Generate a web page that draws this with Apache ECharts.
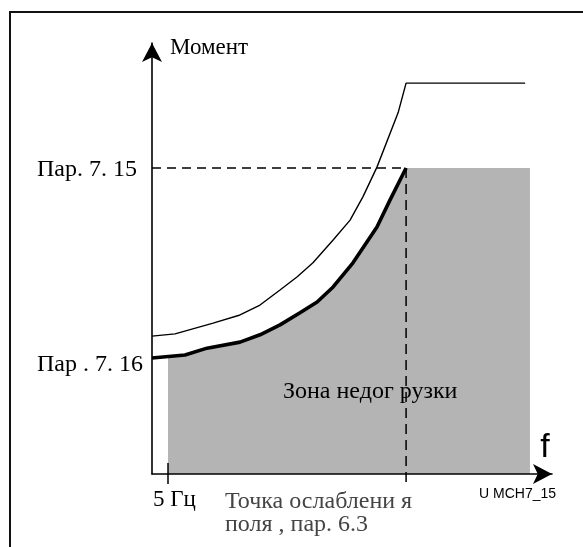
<!DOCTYPE html>
<html><head><meta charset="utf-8">
<script src="https://cdn.jsdelivr.net/npm/echarts@6/dist/echarts.min.js"></script>
<style>html,body{margin:0;padding:0;background:#fff}#c{width:583px;height:547px}</style>
</head><body><div id="c"></div>
<script>
// ---- data (schematic units: x = frequency units, y = torque units) ----
const xAxisMax = 125;
const yAxisMax = 100;
const fieldWeakX = 79.4;      // field weakening point
const par715 = 71.0;          // Par. 7.15 torque level
const minFreqX = 5;           // 5 Hz

// thick curve: underload limit
const limitX = [0, 10.3, 17.2, 27.5, 33.75, 40, 46.25, 51.6, 56.6, 62.8, 70.3, 74.4, 79.4];
const limitY = [26.9, 27.6, 29.2, 30.6, 32.3, 34.6, 37.4, 39.9, 43.4, 49.0, 57.3, 63.6, 71.0];
// thin curve: nominal torque
const nominalX = [0, 7.2, 19.1, 27.5, 33.75, 40, 45.3, 50.3, 56.6, 61.9, 65.9, 70.3, 76.9, 79.4, 116.6];
const nominalY = [32.0, 32.5, 35.0, 36.9, 39.2, 42.7, 45.7, 49.0, 54.3, 58.9, 64.3, 71.2, 83.8, 90.7, 90.7];
// grey underload zone outline
const zoneX = [5, 10.3, 17.2, 27.5, 33.75, 40, 46.25, 51.6, 56.6, 62.8, 70.3, 74.4, 79.4, 118.1];
const zoneY = [27.3, 27.6, 29.2, 30.6, 32.3, 34.6, 37.4, 39.9, 43.4, 49.0, 57.3, 63.6, 71.0, 71.0];
// small marks crossing the x axis
const tickSpanY = [2.55, -2.3];

// tick labels
const yTickValues = [71.0, 26.9];
const yTickLabels = ['Пар. 7. 15', 'Пар . 7. 16'];
const xTickValues = [5];
const xTickLabels = ['5 Гц'];
const yAxisName = 'Момент';
const xAxisName = 'f';
const zoneLabel = 'Зона недог рузки';
const fwLabel = ['Точка ослаблени я', 'поля , пар. 6.3'];
const figId = 'U MCH7_15';

const zip = (xs, ys) => xs.map((x, i) => [x, ys[i]]);

const chart = echarts.init(document.getElementById('c'), null, {renderer: 'canvas'});
const serif = 'Liberation Serif';
const sans = 'Liberation Sans';

const axisCommon = {
  type: 'value', min: 0,
  axisLine: {show: true, symbol: ['none', 'arrow'], symbolSize: [15, 19], lineStyle: {color: '#000', width: 1.6}},
  axisTick: {show: false}, axisLabel: {show: false}, splitLine: {show: false}, z: 5
};

chart.setOption({
  animation: false,
  backgroundColor: '#fff',
  grid: {left: 152, top: 43, width: 400, height: 431},
  xAxis: Object.assign({}, axisCommon, {max: xAxisMax}),
  yAxis: Object.assign({}, axisCommon, {max: yAxisMax}),
  series: [
    {type: 'line', data: zip(zoneX, zoneY), symbol: 'none', silent: true, z: 1,
     lineStyle: {width: 0}, areaStyle: {color: '#b4b4b4', opacity: 1}},
    {type: 'line', data: [[0, par715], [fieldWeakX, par715]], symbol: 'none', z: 3,
     lineStyle: {color: '#000', width: 1.5, type: [9, 6]}},
    {type: 'line', data: [[fieldWeakX, par715], [fieldWeakX, tickSpanY[1]]], symbol: 'none', clip: false, z: 3,
     lineStyle: {color: '#000', width: 1.5, type: [10, 6]}},
    {type: 'line', data: [[minFreqX, tickSpanY[0]], [minFreqX, tickSpanY[1]]], symbol: 'none', clip: false, z: 6,
     lineStyle: {color: '#000', width: 1.5}},
    {type: 'line', data: zip(nominalX, nominalY), symbol: 'none', z: 4,
     lineStyle: {color: '#000', width: 1.4}},
    {type: 'line', data: zip(limitX, limitY), symbol: 'none', z: 4,
     lineStyle: {color: '#000', width: 3.6}}
  ]
});

const px = (x, y) => chart.convertToPixel({gridIndex: 0}, [x, y]);
const o = px(0, 0);
const txt = (text, x, y, opts) => ({
  type: 'text', x: x, y: y, z: 10,
  style: Object.assign({text: text, font: '24px "' + serif + '"', fill: '#000',
    textAlign: 'left', textVerticalAlign: 'middle'}, opts || {})
});

const yLabelOffsets = [[-15, 2], [-9, 7]];
const graphics = [
  {type: 'polyline', shape: {points: [[10, 547], [10, 12], [583, 12]]}, style: {stroke: '#111', lineWidth: 2, fill: null}, z: 10}
];
yTickValues.forEach((v, i) => {
  const p = px(0, v);
  graphics.push(txt(yTickLabels[i], p[0] + yLabelOffsets[i][0], p[1] + yLabelOffsets[i][1], {textAlign: 'right'}));
});
xTickValues.forEach((v, i) => {
  const p = px(v, 0);
  graphics.push(txt(xTickLabels[i], p[0] - 15, p[1] + 26, {font: '23px "' + serif + '"'}));
});
graphics.push(txt(yAxisName, o[0] + 18, 48, {font: '23px "' + serif + '"'}));
graphics.push(txt(xAxisName, 545, 448, {font: '34px "' + sans + '"', textAlign: 'center'}));
graphics.push(txt(zoneLabel, 283, 392));
graphics.push(txt(fwLabel[0], 225, 502, {fill: '#444'}));
graphics.push(txt(fwLabel[1], 225, 525, {fill: '#444'}));
graphics.push(txt(figId, 479, 494, {font: '14px "' + sans + '"'}));

chart.setOption({graphic: graphics});
</script>
</body></html>
